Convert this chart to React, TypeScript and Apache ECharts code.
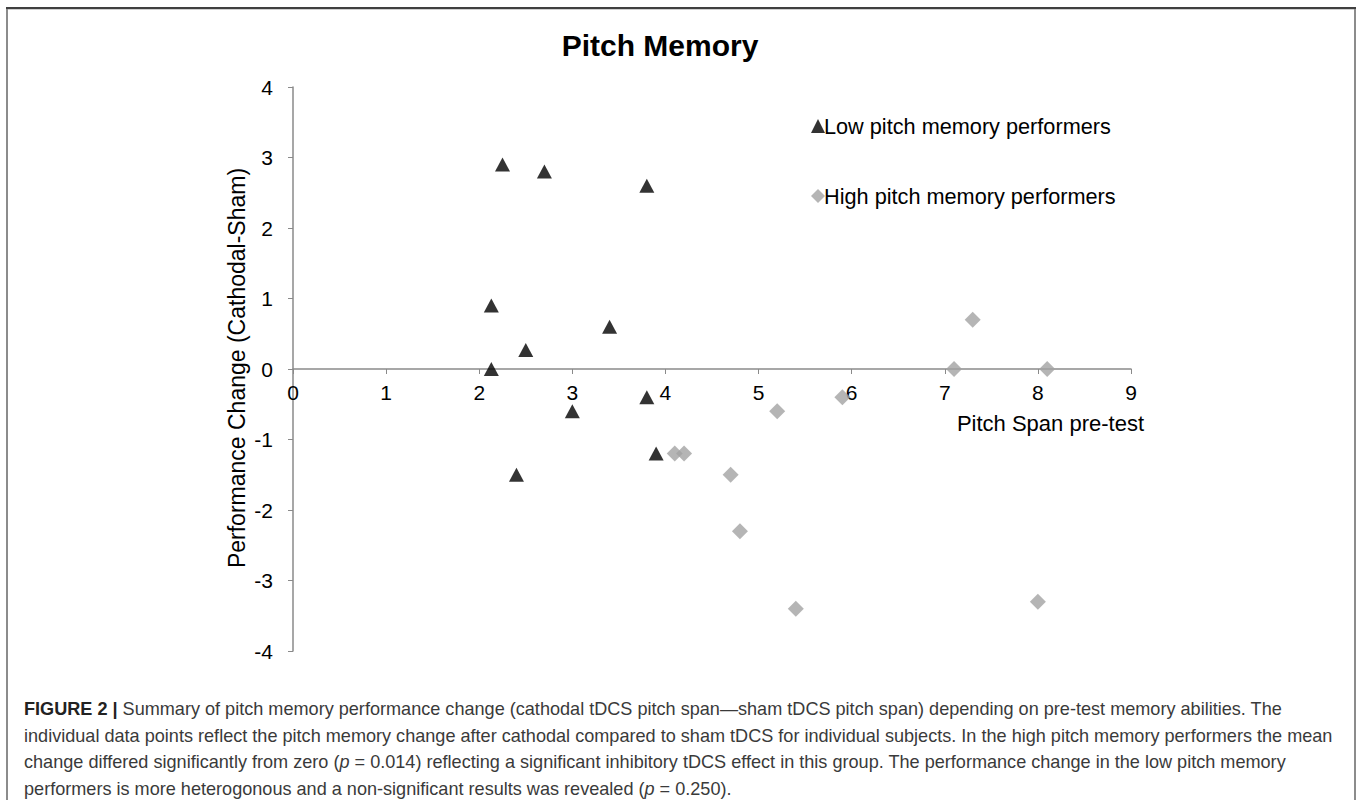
import React, { useEffect, useRef } from "react";
import * as echarts from "echarts";

// Low pitch memory performers (triangles)
const lowX = [2.25, 2.7, 3.8, 2.13, 3.4, 2.5, 2.13, 3.8, 3.0, 3.9, 2.4];
const lowY = [2.9, 2.8, 2.6, 0.9, 0.6, 0.27, 0, -0.4, -0.6, -1.2, -1.5];
// High pitch memory performers (diamonds)
const highX = [4.1, 4.2, 7.1, 8.1, 5.9, 5.2, 4.7, 4.8, 5.4, 8.0, 7.3];
const highY = [-1.2, -1.2, 0, 0, -0.4, -0.6, -1.5, -2.3, -3.4, -3.3, 0.7];

const seriesNames = ["Low pitch memory performers", "High pitch memory performers"];
const chartTitle = "Pitch Memory";
const xAxisName = "Pitch Span pre-test";
const yAxisName = "Performance Change (Cathodal-Sham)";
const captionLines = [
  "{b|FIGURE 2 |} Summary of pitch memory performance change (cathodal tDCS pitch span\u2014sham tDCS pitch span) depending on pre-test memory abilities. The",
  "individual data points reflect the pitch memory change after cathodal compared to sham tDCS for individual subjects. In the high pitch memory performers the mean",
  "change differed significantly from zero ({i|p} = 0.014) reflecting a significant inhibitory tDCS effect in this group. The performance change in the low pitch memory",
  "performers is more heterogonous and a non-significant results was revealed ({i|p} = 0.250).",
];

const FONT = "Liberation Sans, Arial, Helvetica, sans-serif";
const CAP = 18.1;

export default function App() {
  const ref = useRef<HTMLDivElement>(null);
  useEffect(() => {
    if (!ref.current) return;
    const chart = echarts.init(ref.current, null, { renderer: "svg" });
    const low = lowX.map((x, i) => [x, lowY[i]]);
    const high = highX.map((x, i) => [x, highY[i]]);
    const axisColor = "#8a8a8a";
    chart.setOption({
      animation: false,
      backgroundColor: "#ffffff",
      textStyle: { fontFamily: FONT },
      grid: { left: 293, right: 227, top: 87, bottom: 149, containLabel: false },
      xAxis: {
        type: "value",
        min: 0,
        max: 9,
        interval: 1,
        position: "bottom",
        offset: -282,
        axisLine: { show: true, onZero: false, lineStyle: { color: axisColor, width: 1.5 } },
        axisTick: { show: true, length: 5, lineStyle: { color: axisColor } },
        axisLabel: { color: "#000", fontSize: 21, margin: 13, fontFamily: FONT },
        splitLine: { show: false },
      },
      yAxis: {
        type: "value",
        min: -4,
        max: 4,
        interval: 1,
        axisLine: { show: true, onZero: false, lineStyle: { color: axisColor, width: 1.5 } },
        axisTick: { show: true, length: 5, lineStyle: { color: axisColor } },
        axisLabel: { color: "#000", fontSize: 21, margin: 20, fontFamily: FONT },
        splitLine: { show: false },
      },
      legend: {
        orient: "vertical",
        left: 806,
        top: 110,
        itemWidth: 14,
        itemHeight: 14,
        itemGap: 48,
        textStyle: { color: "#000", fontSize: 21.7, lineHeight: 22, fontFamily: FONT, padding: [0, 0, 0, -6] },
        data: [
          { name: seriesNames[0], icon: "triangle", itemStyle: { color: "#000" } },
          { name: seriesNames[1], icon: "diamond", itemStyle: { color: "#a3a3a3" } },
        ],
      },
      series: [
        {
          name: seriesNames[0],
          type: "scatter",
          data: low,
          symbol: "triangle",
          symbolSize: [15, 14],
          itemStyle: { color: "#000" },
        },
        {
          name: seriesNames[1],
          type: "scatter",
          data: high,
          symbol: "diamond",
          symbolSize: 16,
          itemStyle: { color: "#a3a3a3" },
        },
      ],
      graphic: [
        // frame
        { type: "line", shape: { x1: 7, y1: 8, x2: 7, y2: 800 }, style: { stroke: "#8c8c8c", lineWidth: 2 } },
        { type: "line", shape: { x1: 1355, y1: 8, x2: 1355, y2: 800 }, style: { stroke: "#8c8c8c", lineWidth: 2 } },
        { type: "line", shape: { x1: 6, y1: 8, x2: 1356, y2: 8 }, style: { stroke: "#404040", lineWidth: 2 } },
        { type: "line", shape: { x1: 8, y1: 9.5, x2: 1354, y2: 9.5 }, style: { stroke: "#cfcfcf", lineWidth: 1 } },
        // title
        {
          type: "text",
          x: 660,
          y: 45,
          style: {
            text: chartTitle,
            fontSize: 30,
            fontWeight: "bold",
            fontFamily: FONT,
            fill: "#000",
            align: "center",
            verticalAlign: "middle",
          },
        },
        // x axis name
        {
          type: "text",
          x: 1144,
          y: 423,
          style: {
            text: xAxisName,
            fontSize: 22,
            fontFamily: FONT,
            fill: "#000",
            align: "right",
            verticalAlign: "middle",
          },
        },
        // y axis name
        {
          type: "text",
          x: 237,
          y: 368,
          rotation: Math.PI / 2,
          style: {
            text: yAxisName,
            fontSize: 23,
            fontFamily: FONT,
            fill: "#000",
            align: "center",
            verticalAlign: "middle",
          },
        },
        // caption
        ...captionLines.map((t, i) => ({
          type: "text",
          x: 24,
          y: 709 + i * 26.5,
          style: {
            text: t,
            fontSize: CAP,
            fontFamily: FONT,
            fill: "#3a3a3a",
            align: "left",
            verticalAlign: "middle",
            rich: {
              b: { fontSize: CAP, fontWeight: "bold", fill: "#222", fontFamily: FONT },
              i: { fontSize: CAP, fontStyle: "italic", fill: "#3a3a3a", fontFamily: FONT },
            },
          },
        })),
      ],
    });
    return () => chart.dispose();
  }, []);
  return (
    <div
      ref={ref}
      style={{ position: "absolute", left: 0, top: 0, width: 1358, height: 800, background: "#fff" }}
    />
  );
}
